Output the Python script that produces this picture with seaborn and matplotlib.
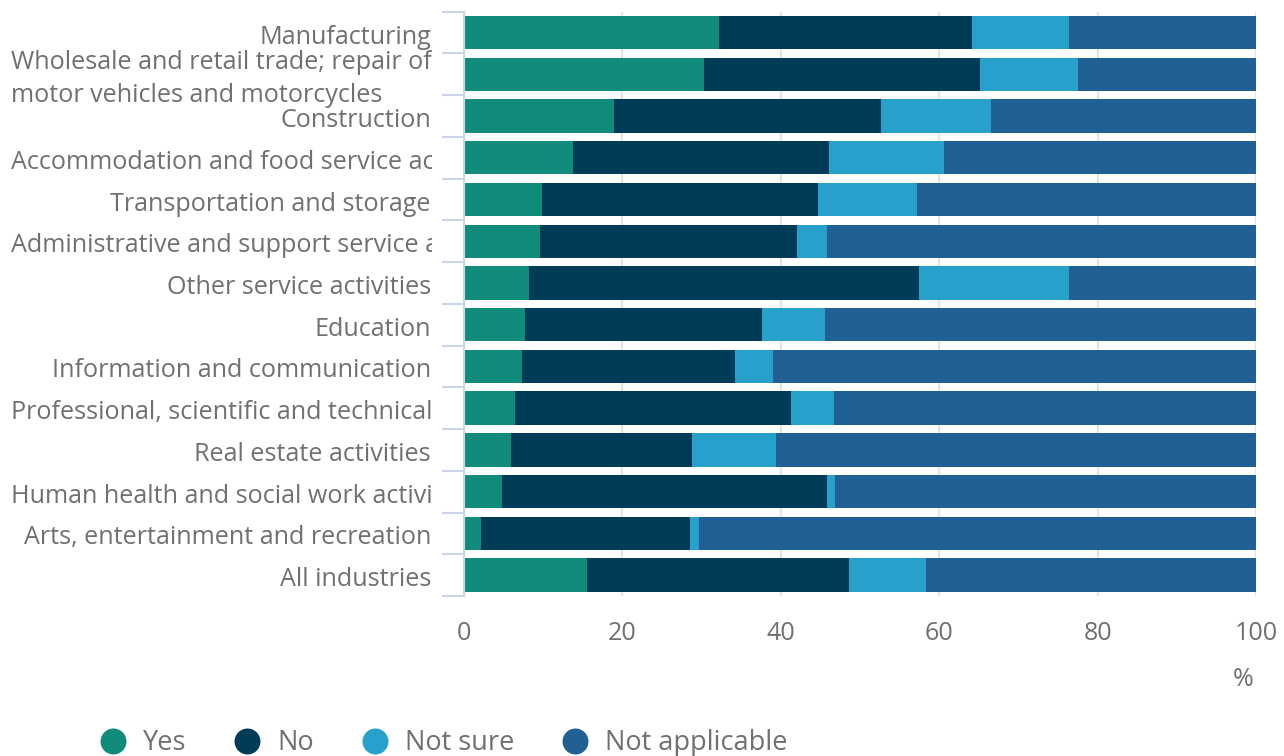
import numpy as np
import pandas as pd
import matplotlib
matplotlib.use("Agg")
import matplotlib.pyplot as plt
import seaborn as sns
from matplotlib.transforms import Bbox, blended_transform_factory, ScaledTranslation
from matplotlib.lines import Line2D

# ---------------- data ----------------
categories = [
    "Manufacturing",
    "Wholesale and retail trade; repair of\nmotor vehicles and motorcycles",
    "Construction",
    "Accommodation and food service activities",
    "Transportation and storage",
    "Administrative and support service activities",
    "Other service activities",
    "Education",
    "Information and communication",
    "Professional, scientific and technical activities",
    "Real estate activities",
    "Human health and social work activities",
    "Arts, entertainment and recreation",
    "All industries",
]
yes = [32.2, 30.3, 18.9, 13.8, 9.9, 9.6, 8.2, 7.7, 7.3, 6.5, 5.9, 4.8, 2.2, 15.5]
no = [32.0, 34.8, 33.7, 32.3, 34.8, 32.5, 49.2, 29.9, 26.9, 34.8, 22.9, 41.0, 26.3, 33.1]
not_sure = [12.2, 12.4, 13.9, 14.5, 12.5, 3.7, 19.0, 8.0, 4.8, 5.4, 10.6, 1.1, 1.2, 9.7]
not_applicable = [23.6, 22.5, 33.5, 39.4, 42.8, 54.2, 23.6, 54.4, 61.0, 53.3, 60.6, 53.1, 70.3, 41.7]

series_names = ["Yes", "No", "Not sure", "Not applicable"]
colors = ["#118c7b", "#003c57", "#27a0cc", "#206095"]
x_ticks = [0, 20, 40, 60, 80, 100]
unit_label = "%"

TEXT = "#707070"
AXIS = "#cbd5e8"
GRID = "#e4e4e4"
FS = 18.1
LFS = 19.5

sns.set_theme(style="white")
plt.rcParams["font.family"] = ["Open Sans", "DejaVu Sans"]

W, H = 1284, 756
fig = plt.figure(figsize=(W / 100, H / 100), dpi=100)
top_px, bot_px, left_px, right_px = 11.7, 596.0, 464.0, 1256.0
ax = fig.add_axes([left_px / W, 1 - bot_px / H, (right_px - left_px) / W, (bot_px - top_px) / H])

df = pd.DataFrame({"category": categories, "Yes": yes, "No": no,
                   "Not sure": not_sure, "Not applicable": not_applicable})
cum = df[series_names].cumsum(axis=1)
cum["category"] = categories

for name, col in reversed(list(zip(series_names, colors))):
    sns.barplot(data=cum, x=name, y="category", order=categories, color=col,
                orient="h", width=0.8, saturation=1, errorbar=None,
                linewidth=0, ax=ax)

ax.set_xlim(0, 100)
ax.set_ylim(len(categories) - 0.5, -0.5)
ax.set_xlabel("")
ax.set_ylabel("")

ax.set_xticks(x_ticks)
ax.set_xticklabels([str(t) for t in x_ticks])
ax.xaxis.grid(True, color=GRID, lw=1.6)
ax.yaxis.grid(False)
ax.set_axisbelow(True)
ax.tick_params(axis="x", length=0, pad=18, labelsize=FS, labelcolor=TEXT)

ax.set_yticks(np.arange(-0.5, len(categories), 1.0))
ax.set_yticklabels([])
ax.tick_params(axis="y", left=True, length=15.8, width=1.5, color=AXIS)

for s in ["top", "right", "bottom"]:
    ax.spines[s].set_visible(False)
ax.spines["left"].set_color(AXIS)
ax.spines["left"].set_linewidth(1.5)

# category labels (long ones overflow and get clipped, as in the reference)
trans = blended_transform_factory(fig.transFigure, ax.transData) + \
    ScaledTranslation(0, -4.5 / 100, fig.dpi_scale_trans)
labels = []
for i, cat in enumerate(categories):
    t = fig.text(431 / W, i, cat, transform=trans, ha="right", va="center",
                 multialignment="left", linespacing=1.42, fontsize=FS, color=TEXT)
    labels.append(t)

fig.canvas.draw()
renderer = fig.canvas.get_renderer()
for t in labels:
    bb = t.get_window_extent(renderer)
    if bb.x0 < 11:
        t.set_ha("left")
        t.set_x(11 / W)
        t.set_clip_box(Bbox([[0, 0], [432, H]]))
        t.set_clip_on(True)

fig.text(1243 / W, 1 - 680 / H, unit_label, ha="center", va="center",
         fontsize=FS, color=TEXT)

handles = [Line2D([], [], marker="o", ls="", markersize=18.7,
                  markerfacecolor=c, markeredgewidth=0) for c in colors]
leg = fig.legend(handles, series_names, loc="center left",
                 bbox_to_anchor=(100 / W, 1 - 743 / H), ncol=4, frameon=False,
                 fontsize=LFS, handlelength=0.96, handletextpad=0.63,
                 columnspacing=1.76, borderpad=0, borderaxespad=0)
for txt in leg.get_texts():
    txt.set_color(TEXT)

fig.savefig("out.png", dpi=100)
